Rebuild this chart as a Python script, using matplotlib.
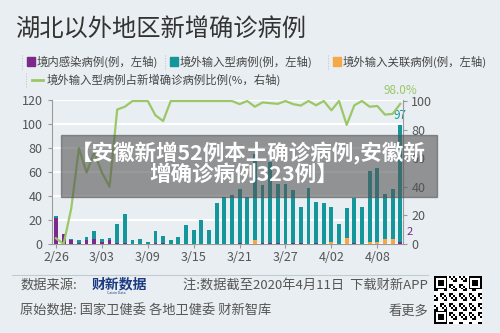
import numpy as np
import matplotlib
matplotlib.use("Agg")
import matplotlib.pyplot as plt
from matplotlib.patches import Rectangle
from matplotlib.lines import Line2D

plt.rcParams['font.family'] = ['Noto Sans CJK SC', 'DejaVu Sans']

# 2/26 .. 4/11 (46 days)
days = np.arange(46)
tick_pos = [0, 6, 12, 18, 24, 30, 36, 42]
tick_labels = ['2/26', '3/03', '3/09', '3/15', '3/21', '3/27', '4/02', '4/08']

# 境内感染病例
local = [22, 8, 3, 1, 3, 4, 2, 3, 1, 1, 0, 0, 0, 1, 1, 0, 0, 0, 0, 0, 0, 0, 0, 0,
         1, 0, 0, 1, 1, 1, 0, 1, 1, 0, 1, 0, 0, 0, 0, 1, 0, 0, 0, 0, 0, 2]
# 境外输入型病例
imported = [1, 0, 1, 2, 3, 7, 2, 2, 16, 24, 3, 4, 2, 10, 6, 3, 6, 16, 12, 20, 12, 34, 39, 41,
            45, 39, 72, 48, 67, 49, 50, 44, 30, 47, 34, 34, 29, 17, 25, 37, 31, 59, 61, 38, 42, 97]
# 境外输入关联病例
related = [0, 0, 0, 0, 0, 0, 0, 0, 0, 0, 0, 0, 0, 0, 0, 0, 0, 0, 0, 0, 0, 0, 0, 0,
           0, 0, 3, 0, 0, 0, 0, 0, 0, 0, 0, 0, 2, 0, 5, 0, 0, 2, 2, 4, 4, 0]
# 境外输入型病例占新增确诊病例比例(%)
ratio = [4, 0, 25, 67, 50, 64, 50, 40, 94, 96, 100, 100, 100, 90, 86, 100, 100, 100, 100, 100,
         100, 100, 100, 100, 97.8, 100, 96, 99, 98.5, 98, 100, 97.8, 96.8, 100, 97, 100, 93.5,
         100, 83.3, 97, 100, 96, 96.5, 90.5, 91, 98]

bg = '#e8eef2'
c_local = '#7b2a8c'
c_imp = '#14979b'
c_rel = '#f4a846'
c_line = '#9cc766'
c_txt = '#555555'

fig = plt.figure(figsize=(5, 3.33), dpi=100, facecolor=bg)
W, H = 500, 333

def fx(x):
    return x / W

def fy(y):
    return 1 - y / H

ax = fig.add_axes([fx(51.7), fy(244), fx(403) - fx(51.7), fy(100) - fy(244)])
ax.set_facecolor(bg)
local = np.array(local)
imported = np.array(imported)
related = np.array(related)
ax.bar(days, local, width=0.5, color=c_local, zorder=3)
ax.bar(days, related, width=0.5, bottom=local, color=c_rel, zorder=3)
ax.bar(days, imported, width=0.5, bottom=local + related, color=c_imp, zorder=3)
ax.set_xlim(-0.56, 45.36)
ax.set_ylim(0, 120)
ax.set_yticks(range(0, 121, 20))
ax.set_xticks(tick_pos)
ax.set_xticklabels(tick_labels)
ax.grid(axis='y', color='white', lw=1.6, zorder=0)
for s in ['top', 'right']:
    ax.spines[s].set_visible(False)
for s in ['left', 'bottom']:
    ax.spines[s].set_color('#9a9a9a')
    ax.spines[s].set_linewidth(0.8)
ax.tick_params(axis='both', colors='#9a9a9a', labelcolor=c_txt, labelsize=9, length=3, width=0.8)
ax.tick_params(axis='x', pad=2)

ax2 = ax.twinx()
ax2.plot(days, ratio, color=c_line, lw=1.6, zorder=4)
ax2.set_ylim(0, 100.7)
ax2.set_yticks(range(0, 101, 20))
for s in ['top', 'left', 'bottom']:
    ax2.spines[s].set_visible(False)
ax2.spines['right'].set_color('#9a9a9a')
ax2.spines['right'].set_linewidth(0.8)
ax2.tick_params(axis='y', colors='#9a9a9a', labelcolor=c_txt, labelsize=9, length=3, width=0.8, pad=3)

last = days[-1]
ax.annotate(str(imported[-1]), (last, local[-1] + related[-1] + imported[-1]),
            xytext=(0, 2), textcoords='offset points', ha='center', va='bottom',
            color=c_imp, fontsize=8.5, zorder=6)
ax.annotate(str(local[-1]), (last, local[-1]), xytext=(7, 3), textcoords='offset points',
            ha='center', va='bottom', color=c_local, fontsize=8)
ax2.annotate('%.1f%%' % ratio[-1], (last, ratio[-1]), xytext=(0, 5), textcoords='offset points',
             ha='center', va='bottom', color=c_line, fontsize=8.5)

# title
fig.text(fx(15), fy(30), '湖北以外地区新增确诊病例', fontsize=17.5, color='#333333', va='center')

# legend
leg = [(27, c_local, '境内感染病例(例，左轴)'),
       (170, c_imp, '境外输入型病例(例，左轴)'),
       (333, c_rel, '境外输入关联病例(例，左轴)')]
for x0, col, lab in leg:
    fig.patches.append(Rectangle((fx(x0), fy(65.5)), fx(8), 8 / H, color=col, transform=fig.transFigure))
    fig.text(fx(x0 + 10), fy(62), lab, fontsize=8.2, color='#444444', va='center')
    fig.lines.append(Line2D([fx(x0 - 5), fx(x0 - 5)], [fy(55), fy(69)], color='#b8c0c6', lw=0.7,
                            ls=':', transform=fig.transFigure))
fig.lines.append(Line2D([fx(32), fx(43)], [fy(79.5), fy(79.5)], color=c_line, lw=2, transform=fig.transFigure))
fig.text(fx(47), fy(79.5), '境外输入型病例占新增确诊病例比例(%，右轴)', fontsize=8.2, color='#444444', va='center')
fig.lines.append(Line2D([fx(26), fx(26)], [fy(73), fy(87)], color='#b8c0c6', lw=0.7, ls=':',
                        transform=fig.transFigure))

# overlay banner
fig.patches.append(Rectangle((fx(61), fy(197)), fx(437) - fx(61), 62 / H, color='#555555', alpha=0.6,
                             transform=fig.transFigure, zorder=10))
fig.text(fx(248), fy(153), '【安徽新增52例本土确诊病例,安徽新', fontsize=15.5, fontweight='bold',
         color='white', ha='center', va='center', zorder=11)
fig.text(fx(244), fy(174), '增确诊病例323例】', fontsize=15.5, fontweight='bold',
         color='white', ha='center', va='center', zorder=11)

# footer
fig.lines.append(Line2D([fx(12), fx(428)], [fy(275), fy(275)], color='#c4cbd0', lw=0.8, transform=fig.transFigure))
fig.text(fx(20), fy(285), '数据来源:', fontsize=9.5, color=c_txt, va='center')
fig.text(fx(92), fy(284), '财新数据', fontsize=10, fontweight='bold', color='#1d3b80', va='center')
fig.text(fx(116), fy(292.5), 'Caixin Data', fontsize=2.5, color='#1d3b80', ha='center', va='center')
fig.text(fx(428), fy(285), '注:数据截至2020年4月11日  下载财新APP', fontsize=9.5, color=c_txt,
         ha='right', va='center')
fig.text(fx(20), fy(311), '原始数据: 国家卫健委 各地卫健委 财新智库', fontsize=9.5, color=c_txt, va='center')
fig.text(fx(428), fy(311), '看更多', fontsize=9.5, color=c_txt, ha='right', va='center')

# QR code block (decorative)
qr = fig.add_axes([fx(434), fy(324), fx(48), 48 / H])
n = 25
ii, jj = np.meshgrid(np.arange(n), np.arange(n))
pattern = ((ii * 7 + jj * 3 + ii * jj) % 5 < 2).astype(float)
for (r0, c0) in [(0, 0), (0, n - 7), (n - 7, 0)]:
    pattern[r0:r0 + 7, c0:c0 + 7] = 1
    pattern[r0 + 1:r0 + 6, c0 + 1:c0 + 6] = 0
    pattern[r0 + 2:r0 + 5, c0 + 2:c0 + 5] = 1
qr.imshow(1 - pattern, cmap='gray', interpolation='nearest', vmin=0, vmax=1)
qr.axis('off')

fig.savefig('out.png', dpi=100, facecolor=bg)
